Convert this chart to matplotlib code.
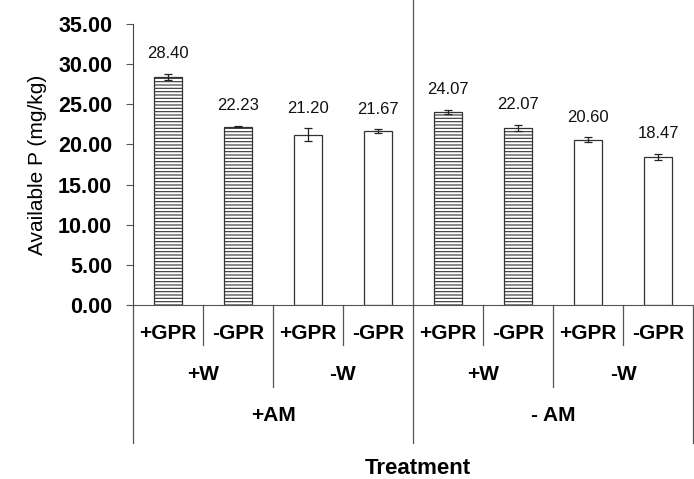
import matplotlib
matplotlib.use('Agg')
import matplotlib.pyplot as plt
import matplotlib.transforms as mtransforms

plt.rcParams['font.family'] = ['Liberation Sans', 'DejaVu Sans']
plt.rcParams['hatch.color'] = '#9a9a9a'
plt.rcParams['hatch.linewidth'] = 0.8

# Available P per treatment, left to right
values = [28.40, 22.23, 21.20, 21.67, 24.07, 22.07, 20.60, 18.47]
errors = [0.40, 0.10, 0.80, 0.20, 0.25, 0.40, 0.30, 0.40]
gpr_labels = ['+GPR', '-GPR', '+GPR', '-GPR', '+GPR', '-GPR', '+GPR', '-GPR']
w_labels = ['+W', '-W', '+W', '-W']
am_labels = ['+AM', '- AM']
hatched = [True, True, False, False, True, True, False, False]

fig = plt.figure(figsize=(6.94, 4.79), dpi=100)
ax = fig.add_axes([133 / 694, 1 - 305 / 479, 560 / 694, 281 / 479])

for i, (v, e) in enumerate(zip(values, errors)):
    ax.bar(i, v, width=0.4, color='white', edgecolor='#333333', linewidth=0.9,
           hatch='-----' if hatched[i] else None)
    ax.errorbar(i, v, yerr=e, fmt='none', ecolor='#222222', elinewidth=0.9,
                capsize=3, capthick=0.9)
    ax.annotate(f'{v:.2f}', (i, v + e), xytext=(0, 9), textcoords='offset points',
                ha='center', va='bottom', fontsize=12, color='#111111')

ax.set_xlim(-0.5, len(values) - 0.5)
ax.set_ylim(0, 35)
ax.set_yticks([0, 5, 10, 15, 20, 25, 30, 35])
ax.set_yticklabels([f'{t:.2f}' for t in ax.get_yticks()], fontsize=15.5,
                   fontweight='bold')
ax.tick_params(axis='y', direction='out', length=5, width=0.8, color='#555555', pad=10)
ax.set_xticks([])
for s in ['top', 'right']:
    ax.spines[s].set_visible(False)
ax.spines['left'].set_color('#444444')
ax.spines['bottom'].set_color('#555555')

ax.set_ylabel('Available P (mg/kg)', fontsize=15, labelpad=8)

# grouped category axis below the plot
trans = mtransforms.blended_transform_factory(ax.transData, ax.transAxes)
line_kw = dict(color='#555555', linewidth=0.9, transform=trans, clip_on=False)
for i in range(1, 8):
    if i % 4 == 0:
        ax.plot([i - 0.5, i - 0.5], [-0.491, 1.085], **line_kw)
    elif i % 2 == 0:
        ax.plot([i - 0.5, i - 0.5], [-0.292, 0], **line_kw)
    else:
        ax.plot([i - 0.5, i - 0.5], [-0.142, 0], **line_kw)
ax.plot([-0.5, -0.5], [-0.491, 0], **line_kw)
ax.plot([7.5, 7.5], [-0.491, 0], **line_kw)

for i, lab in enumerate(gpr_labels):
    ax.text(i, -0.102, lab, transform=trans, ha='center', va='center',
            fontsize=15, fontweight='bold')
for j, lab in enumerate(w_labels):
    ax.text(2 * j + 0.5, -0.249, lab, transform=trans, ha='center', va='center',
            fontsize=15, fontweight='bold')
for k, lab in enumerate(am_labels):
    ax.text(4 * k + 1.5, -0.394, lab, transform=trans, ha='center', va='center',
            fontsize=15, fontweight='bold')

fig.text(418 / 694, 1 - 469 / 479, 'Treatment', ha='center', va='center',
         fontsize=16, fontweight='bold')

fig.savefig('out.png', dpi=100)
